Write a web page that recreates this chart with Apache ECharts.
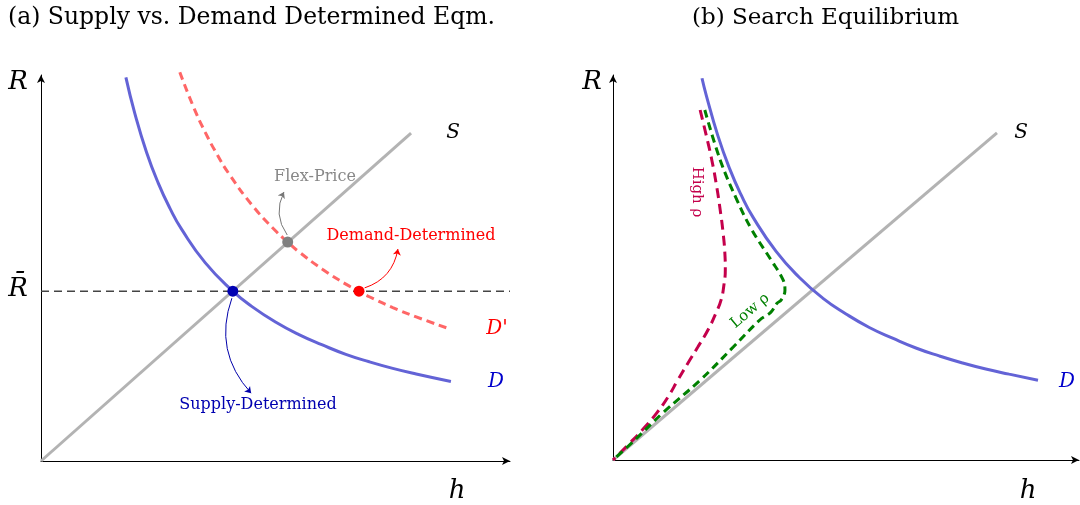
<!DOCTYPE html>
<html>
<head>
<meta charset="utf-8">
<script src="https://cdn.jsdelivr.net/npm/echarts@6/dist/echarts.min.js"></script>
<style>
html,body{margin:0;padding:0;background:#fff;}
#chart{width:1080px;height:505px;}
</style>
</head>
<body>
<div id="chart"></div>
<script>
// ---------- Panel (a) data: [h, R] ----------
var supplyA = [[0, 0], [7.89, 7.01]];
var rBar = 3.63;
var rBarLine = [[0, rBar], [10, rBar]];
var demandA = [[1.81, 8.20], [2.0, 7.43], [2.25, 6.60], [2.5, 5.94], [2.75, 5.40], [3.0, 4.95], [3.5, 4.24], [4.09, 3.63], [4.5, 3.30], [5.0, 2.97], [5.5, 2.70], [6.0, 2.48], [6.5, 2.28], [7.0, 2.12], [7.5, 1.98], [8.0, 1.86], [8.74, 1.70]];
var demandPrimeA = [[2.96, 8.31], [3.25, 7.57], [3.5, 7.03], [3.75, 6.56], [4.0, 6.15], [4.5, 5.47], [5.0, 4.92], [5.26, 4.68], [5.5, 4.47], [6.0, 4.10], [6.5, 3.78], [6.78, 3.63], [7.0, 3.51], [7.5, 3.28], [8.0, 3.08], [8.72, 2.82]];
var supplyDetPoint = [4.09, 3.63];
var flexPricePoint = [5.26, 4.68];
var demandDetPoint = [6.78, 3.63];
var flexArrow = [[5.25, 4.83], [5.18, 5.75]];
var demandArrow = [[6.90, 3.70], [7.61, 4.53]];
var supplyArrow = [[4.07, 3.48], [4.48, 1.45]];

// ---------- Panel (b) data: [h, R] ----------
var supplyB = [[0, 0], [8.24, 7.01]];
var demandB = [[1.91, 8.18], [2.0, 7.82], [2.25, 6.95], [2.5, 6.25], [2.75, 5.68], [3.0, 5.21], [3.5, 4.47], [4.0, 3.91], [4.5, 3.47], [5.0, 3.13], [5.5, 2.84], [6.0, 2.61], [6.5, 2.40], [7.0, 2.23], [7.5, 2.08], [8.0, 1.95], [8.5, 1.84], [9.12, 1.71]];
var highRho = [[1.87, 7.50], [2.00, 6.96], [2.12, 6.43], [2.22, 5.89], [2.30, 5.36], [2.36, 4.89], [2.40, 4.44], [2.41, 4.07], [2.38, 3.75], [2.32, 3.43], [2.21, 3.15], [2.04, 2.79], [1.82, 2.42], [1.61, 2.08], [1.39, 1.71], [1.18, 1.35], [0.94, 1.01], [0.67, 0.69], [0.36, 0.36], [0, 0]];
var lowRho = [[1.97, 7.50], [2.30, 6.43], [2.66, 5.57], [2.98, 4.93], [3.39, 4.29], [3.65, 3.86], [3.69, 3.64], [3.61, 3.43], [3.52, 3.36], [3.39, 3.17], [3.15, 3.00], [2.58, 2.42], [1.87, 1.71], [1.07, 1.01], [0.47, 0.43], [0, 0]];

// ---------- text ----------
var titleA = '(a) Supply vs. Demand Determined Eqm.';
var titleB = '(b) Search Equilibrium';

var serif = '"DejaVu Serif", "Liberation Serif", serif';
var it = 'italic';

function axisX(gi) {
  return {
    type: 'value', gridIndex: gi, min: 0, max: 10,
    axisLine: { show: true, onZero: false, symbol: ['none', 'arrow'], symbolSize: [6, 8], lineStyle: { color: '#000', width: 1 } },
    axisTick: { show: false }, axisLabel: { show: false }, splitLine: { show: false }
  };
}
function axisY(gi) {
  return {
    type: 'value', gridIndex: gi, min: 0, max: 8.25,
    axisLine: { show: true, onZero: false, symbol: ['none', 'arrow'], symbolSize: [6, 8], lineStyle: { color: '#000', width: 1 } },
    axisTick: { show: false }, axisLabel: { show: false }, splitLine: { show: false }
  };
}
function line(name, gi, data, color, width, type, smooth, z) {
  return {
    name: name, type: 'line', xAxisIndex: gi, yAxisIndex: gi, data: data,
    showSymbol: false, smooth: smooth, clip: false, z: z || 2,
    lineStyle: { color: color, width: width, type: type }
  };
}
function dot(gi, p, color) {
  return {
    type: 'scatter', xAxisIndex: gi, yAxisIndex: gi, data: [p], symbolSize: 11, z: 10,
    itemStyle: { color: color, opacity: 1 }
  };
}
function arrow(gi, coords, color, curveness) {
  return {
    type: 'lines', coordinateSystem: 'cartesian2d', xAxisIndex: gi, yAxisIndex: gi, z: 9,
    symbol: ['none', 'arrow'], symbolSize: 6,
    lineStyle: { color: color, width: 1, curveness: curveness, opacity: 1 },
    data: [{ coords: coords }]
  };
}
function txt(x, y, s, size, color, style, rot, align) {
  return {
    type: 'text', x: x, y: y, rotation: rot || 0, z: 20,
    style: { text: s, fontFamily: serif, fontSize: size, fill: color, fontStyle: style || 'normal',
      align: align || 'center', verticalAlign: 'middle' }
  };
}

var chart = echarts.init(document.getElementById('chart'), null, { renderer: 'canvas' });
chart.setOption({
  animation: false,
  backgroundColor: '#fff',
  grid: [
    { left: 41, top: 75, width: 469, height: 386 },
    { left: 613, top: 75, width: 466, height: 385 }
  ],
  xAxis: [axisX(0), axisX(1)],
  yAxis: [axisY(0), axisY(1)],
  series: [
    line('S', 0, supplyA, '#b3b3b3', 3, 'solid', false),
    line('Rbar', 0, rBarLine, '#444444', 1.5, [8, 5], false, 1),
    line('D', 0, demandA, '#6363d6', 3, 'solid', true),
    line("D'", 0, demandPrimeA, '#ff6666', 3, [8, 5], true),
    arrow(0, flexArrow, '#777777', 0.3),
    arrow(0, demandArrow, '#ff0000', -0.3),
    arrow(0, supplyArrow, '#0000aa', -0.3),
    dot(0, supplyDetPoint, '#0000b3'),
    dot(0, flexPricePoint, '#808080'),
    dot(0, demandDetPoint, '#ff0000'),
    line('S', 1, supplyB, '#b3b3b3', 3, 'solid', false),
    line('D', 1, demandB, '#6363d6', 3, 'solid', true),
    line('High', 1, highRho, '#c4004b', 3, [10, 6], 0.5, 3),
    line('Low', 1, lowRho, '#008000', 3, [8, 5], 0.4, 3)
  ],
  graphic: [
    txt(8, 18, titleA, 23.5, '#000', 'normal', 0, 'left'),
    txt(692, 18, titleB, 23, '#000', 'normal', 0, 'left'),
    txt(18, 82, 'R', 26, '#000', it),
    txt(18, 289, 'R\u0304', 26, '#000', it),
    txt(457, 491, 'h', 26, '#000', it),
    txt(453, 133, 'S', 20, '#000', it),
    txt(497, 329, "D'", 20, '#ff0000', it),
    txt(496, 382, 'D', 20, '#0000cc', it),
    txt(315, 177, 'Flex-Price', 16, '#888888'),
    txt(411, 236, 'Demand-Determined', 16, '#ff0000'),
    txt(258, 405, 'Supply-Determined', 16, '#0000b0'),
    txt(592, 82, 'R', 26, '#000', it),
    txt(1028, 491, 'h', 26, '#000', it),
    txt(1021, 133, 'S', 20, '#000', it),
    txt(1067, 382, 'D', 20, '#0000cc', it),
    txt(697, 192, 'High \u03c1', 15, '#c4004b', 'normal', -Math.PI / 2),
    txt(750, 311, 'Low \u03c1', 15, '#008000', 'normal', 0.70)
  ]
});
</script>
</body>
</html>
